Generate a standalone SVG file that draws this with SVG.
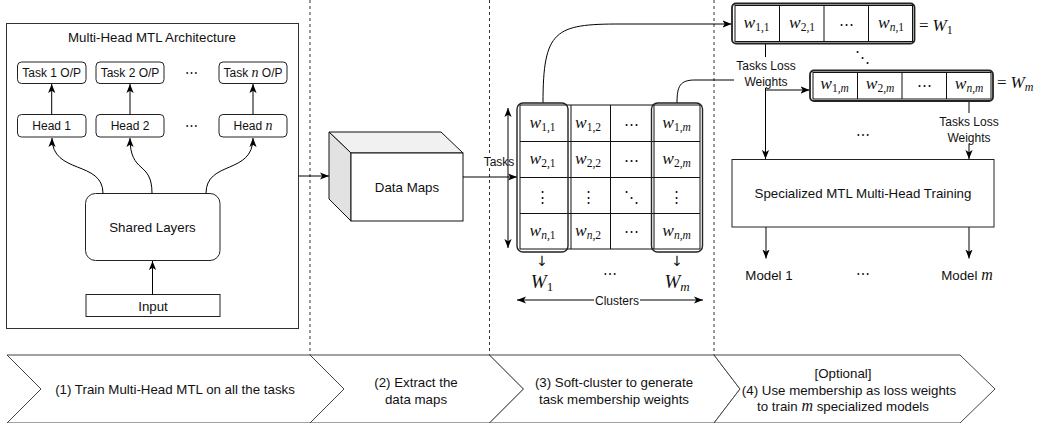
<svg xmlns="http://www.w3.org/2000/svg" width="1042" height="423" viewBox="0 0 1042 423">
<defs>
<style>
.t{font-family:"Liberation Sans",Arial,sans-serif;fill:#111;}
.f13{font-size:13.3px;}
.f12{font-size:12px;}
.m{font-family:"Liberation Serif","Times New Roman",serif;fill:#111;}
.d{font-family:"DejaVu Serif",serif;fill:#111;}
.ar{font-family:"DejaVu Sans",sans-serif;fill:#111;}
.i{font-style:italic;}
.box{fill:#fff;stroke:#222;stroke-width:1;}
.edge{fill:none;stroke:#000;stroke-width:1;}
.dash{fill:none;stroke:#333;stroke-width:1;stroke-dasharray:3 3;}
.chev{fill:#fff;stroke:#444;stroke-width:1;}
.cell{fill:#fff;stroke:#111;stroke-width:1;}
.grp{fill:none;stroke:#222;stroke-width:1.4;}
.bg{fill:#fff;stroke:none;}
</style>
<marker id="arr" viewBox="0 0 10 8" refX="10" refY="4" markerWidth="9" markerHeight="8" markerUnits="userSpaceOnUse" orient="auto-start-reverse">
<path d="M0,0 L10,4 L0,8 L2.5,4 Z" fill="#000"/>
</marker>
</defs>
<rect width="1042" height="423" fill="#fff"/>

<g id="separators">
<line class="dash" x1="310" y1="0" x2="310" y2="355"/>
<line class="dash" x1="489.5" y1="0" x2="489.5" y2="355"/>
<line class="dash" x1="714" y1="0" x2="714" y2="355"/>
</g>

<g id="mtl-architecture">
<rect x="6.5" y="23.5" width="292" height="305" fill="#fff" stroke="#333" stroke-width="1"/>
<text class="t f13" x="152" y="41.5" text-anchor="middle">Multi-Head MTL Architecture</text>
</g>
<g id="task1"><rect class="box" x="17.5" y="62" width="68.5" height="21.5" rx="4"/><text class="t f12" x="51.7" y="77" text-anchor="middle">Task 1 O/P</text></g>
<g id="task2"><rect class="box" x="96" y="62" width="68" height="21.5" rx="4"/><text class="t f12" x="130" y="77" text-anchor="middle">Task 2 O/P</text></g>
<g id="taskn"><rect class="box" x="219" y="62" width="68" height="21.5" rx="4"/><text class="t f12" x="253" y="77" text-anchor="middle">Task <tspan class="m i" font-size="14">n</tspan> O/P</text></g>
<g id="head1"><rect class="box" x="17.5" y="114.5" width="68.5" height="22.5" rx="4"/><text class="t f12" x="51.7" y="130" text-anchor="middle">Head 1</text></g>
<g id="head2"><rect class="box" x="96" y="114.5" width="68" height="22.5" rx="4"/><text class="t f12" x="130" y="130" text-anchor="middle">Head 2</text></g>
<g id="headn"><rect class="box" x="219" y="114.5" width="68" height="22.5" rx="4"/><text class="t f12" x="253" y="130" text-anchor="middle">Head <tspan class="m i" font-size="14">n</tspan></text></g>
<g id="dots-heads">
<text class="d" font-size="13" x="191.5" y="76.5" text-anchor="middle">⋯</text>
<text class="d" font-size="13" x="191.5" y="129.5" text-anchor="middle">⋯</text>
</g>
<g id="shared-layers"><rect class="box" x="85.5" y="193.5" width="134.5" height="67" rx="10"/><text class="t f13" x="152.5" y="231.5" text-anchor="middle">Shared Layers</text></g>
<g id="input"><rect class="box" x="86" y="294.5" width="134" height="22"/><text class="t f13" x="153" y="310.5" text-anchor="middle">Input</text></g>

<g id="data-maps">
<polygon points="329,132 441,132 463,153 351,153" fill="#f1f1f1" stroke="#111" stroke-width="1"/>
<polygon points="329,132 351,153 351,221 329,199" fill="#e2e2e2" stroke="#111" stroke-width="1"/>
<rect x="351" y="153" width="112" height="68" fill="#fff" stroke="#111" stroke-width="1"/>
<text class="t f13" x="407" y="191.5" text-anchor="middle">Data Maps</text>
</g>

<g id="connectors">
<line class="edge" x1="51.7" y1="114.5" x2="51.7" y2="84" marker-end="url(#arr)"/>
<line class="edge" x1="130" y1="114.5" x2="130" y2="84" marker-end="url(#arr)"/>
<line class="edge" x1="253" y1="114.5" x2="253" y2="84" marker-end="url(#arr)"/>
<path class="edge" d="M103,193.5 C103,160 52,175 52,138" marker-end="url(#arr)"/>
<path class="edge" d="M152,193.5 C152,160 130,175 130,138" marker-end="url(#arr)"/>
<path class="edge" d="M206,193.5 C206,160 253,175 253,138" marker-end="url(#arr)"/>
<line class="edge" x1="152.5" y1="294.5" x2="152.5" y2="261" marker-end="url(#arr)"/>
<line class="edge" x1="298.5" y1="176" x2="329" y2="176" marker-end="url(#arr)"/>
<line class="edge" x1="463" y1="177" x2="517" y2="177" marker-end="url(#arr)"/>
<line class="edge" x1="508" y1="108" x2="508" y2="248" marker-start="url(#arr)" marker-end="url(#arr)"/>
<line class="edge" x1="517" y1="300" x2="703" y2="300" marker-start="url(#arr)" marker-end="url(#arr)"/>
<path class="edge" d="M543,103 C543,30 555,24 620,24 L731.5,24" marker-end="url(#arr)"/>
<path class="edge" d="M677,103 C677,86 680,80 695,80 L765.5,80 L765.5,90 L809.5,90" marker-end="url(#arr)"/>
<line class="edge" x1="765.5" y1="43.5" x2="765.5" y2="159" marker-end="url(#arr)"/>
<line class="edge" x1="969" y1="101" x2="969" y2="159" marker-end="url(#arr)"/>
<line class="edge" x1="766" y1="227" x2="766" y2="258.5" marker-end="url(#arr)"/>
<line class="edge" x1="969" y1="227" x2="969" y2="258.5" marker-end="url(#arr)"/>
</g>

<g id="edge-labels">
<rect class="bg" x="482" y="154" width="24" height="14"/>
<rect class="bg" x="509" y="154" width="8" height="14"/>
<text class="t f12" x="499" y="165.5" text-anchor="middle">Tasks</text>
<rect class="bg" x="594" y="293" width="46" height="14"/>
<text class="t f12" x="617" y="304.5" text-anchor="middle">Clusters</text>
<rect class="bg" x="734" y="57" width="63" height="31"/>
<text class="t f12" x="766" y="69.5" text-anchor="middle">Tasks Loss</text>
<text class="t f12" x="766" y="85.5" text-anchor="middle">Weights</text>
<rect class="bg" x="937" y="113" width="64" height="31"/>
<text class="t f12" x="969" y="125.5" text-anchor="middle">Tasks Loss</text>
<text class="t f12" x="969" y="141.5" text-anchor="middle">Weights</text>
</g>

<g id="weight-matrix">
<rect class="cell" x="520" y="105" width="180" height="144"/>
<line class="cell" x1="571" y1="105" x2="571" y2="249"/>
<line class="cell" x1="610.5" y1="105" x2="610.5" y2="249"/>
<line class="cell" x1="654" y1="105" x2="654" y2="249"/>
<line class="cell" x1="520" y1="141.5" x2="700" y2="141.5"/>
<line class="cell" x1="520" y1="177.5" x2="700" y2="177.5"/>
<line class="cell" x1="520" y1="213.5" x2="700" y2="213.5"/>
<rect class="grp" x="517" y="103" width="51" height="149" rx="6"/>
<rect class="grp" x="651.5" y="103" width="51" height="149" rx="6"/>
<g class="m" font-size="17.5" text-anchor="middle">
<text x="542.5" y="127.5"><tspan class="i">w</tspan><tspan font-size="11.5" dy="3">1,1</tspan></text>
<text x="588" y="127.5"><tspan class="i">w</tspan><tspan font-size="11.5" dy="3">1,2</tspan></text>
<text x="676.5" y="127.5"><tspan class="i">w</tspan><tspan font-size="11.5" dy="3">1,<tspan class="i">m</tspan></tspan></text>
<text x="542.5" y="163.5"><tspan class="i">w</tspan><tspan font-size="11.5" dy="3">2,1</tspan></text>
<text x="588" y="163.5"><tspan class="i">w</tspan><tspan font-size="11.5" dy="3">2,2</tspan></text>
<text x="676.5" y="163.5"><tspan class="i">w</tspan><tspan font-size="11.5" dy="3">2,<tspan class="i">m</tspan></tspan></text>
<text x="542.5" y="235.5"><tspan class="i">w</tspan><tspan font-size="11.5" dy="3"><tspan class="i">n</tspan>,1</tspan></text>
<text x="588" y="235.5"><tspan class="i">w</tspan><tspan font-size="11.5" dy="3"><tspan class="i">n</tspan>,2</tspan></text>
<text x="676.5" y="235.5"><tspan class="i">w</tspan><tspan font-size="11.5" dy="3"><tspan class="i">n</tspan>,<tspan class="i">m</tspan></tspan></text>
</g>
<g class="d" font-size="15" text-anchor="middle">
<text x="631" y="128.5">⋯</text>
<text x="631" y="164.5">⋯</text>
<text x="631" y="236">⋯</text>
<text x="542.5" y="202">⋮</text>
<text x="588" y="202">⋮</text>
<text x="676.5" y="202">⋮</text>
<text x="631" y="202">⋱</text>
</g>
</g>

<g id="cluster-labels">
<text class="ar" font-size="14" x="542" y="266" text-anchor="middle">↓&#xFE0E;</text>
<text class="ar" font-size="14" x="677" y="266" text-anchor="middle">↓&#xFE0E;</text>
<text class="m" font-size="19" x="542" y="288" text-anchor="middle"><tspan class="i">W</tspan><tspan font-size="13" dy="3">1</tspan></text>
<text class="m" font-size="19" x="677" y="288" text-anchor="middle"><tspan class="i">W</tspan><tspan font-size="13" dy="3" class="i">m</tspan></text>
<text class="d" font-size="14" x="610" y="279" text-anchor="middle">⋯</text>
</g>

<g id="w1-row">
<rect x="732" y="3.5" width="182.5" height="40" rx="4" fill="#fff" stroke="#222" stroke-width="1.8"/>
<rect class="cell" x="735" y="5.5" width="177.5" height="36"/>
<line class="cell" x1="779.5" y1="5.5" x2="779.5" y2="41.5"/>
<line class="cell" x1="824" y1="5.5" x2="824" y2="41.5"/>
<line class="cell" x1="868.5" y1="5.5" x2="868.5" y2="41.5"/>
<g class="m" font-size="17.5" text-anchor="middle">
<text x="756.5" y="28"><tspan class="i">w</tspan><tspan font-size="11.5" dy="3">1,1</tspan></text>
<text x="802" y="28"><tspan class="i">w</tspan><tspan font-size="11.5" dy="3">2,1</tspan></text>
<text x="891" y="28"><tspan class="i">w</tspan><tspan font-size="11.5" dy="3"><tspan class="i">n</tspan>,1</tspan></text>
</g>
<text class="d" font-size="15" x="846.5" y="29" text-anchor="middle">⋯</text>
<text class="m" font-size="17" x="919" y="30.5"><tspan>=</tspan><tspan class="i" dx="4">W</tspan><tspan font-size="12" dy="3">1</tspan></text>
</g>
<text class="d" font-size="15" x="862" y="62" text-anchor="middle">⋱</text>

<g id="wm-row">
<rect x="810" y="70.5" width="183" height="30.5" rx="4" fill="#fff" stroke="#222" stroke-width="1.8"/>
<rect class="cell" x="813" y="72.5" width="178" height="26.5"/>
<line class="cell" x1="857.5" y1="72.5" x2="857.5" y2="99"/>
<line class="cell" x1="902" y1="72.5" x2="902" y2="99"/>
<line class="cell" x1="946.5" y1="72.5" x2="946.5" y2="99"/>
<g class="m" font-size="17.5" text-anchor="middle">
<text x="834.5" y="88.5"><tspan class="i">w</tspan><tspan font-size="11.5" dy="3">1,<tspan class="i">m</tspan></tspan></text>
<text x="880" y="88.5"><tspan class="i">w</tspan><tspan font-size="11.5" dy="3">2,<tspan class="i">m</tspan></tspan></text>
<text x="969" y="88.5"><tspan class="i">w</tspan><tspan font-size="11.5" dy="3"><tspan class="i">n</tspan>,<tspan class="i">m</tspan></tspan></text>
</g>
<text class="d" font-size="15" x="924" y="89.5" text-anchor="middle">⋯</text>
<text class="m" font-size="17" x="997" y="88"><tspan>=</tspan><tspan class="i" dx="4">W</tspan><tspan font-size="12" dy="3" class="i">m</tspan></text>
</g>
<text class="d" font-size="14" x="863" y="140" text-anchor="middle">⋯</text>

<g id="specialized-training">
<rect class="box" x="732" y="159.5" width="262" height="67.5"/>
<text class="t f13" x="863" y="197.5" text-anchor="middle">Specialized MTL Multi-Head Training</text>
</g>
<g id="model1"><text class="t f13" x="769" y="280" text-anchor="middle">Model 1</text></g>
<text class="d" font-size="14" x="863" y="279" text-anchor="middle">⋯</text>
<g id="modelm"><text class="t f13" x="967" y="280" text-anchor="middle">Model <tspan class="m i" font-size="16">m</tspan></text></g>

<g id="step1">
<polygon class="chev" points="7,355 310,355 344,389 310,423 7,423 41,389"/>
<text class="t f13" x="175" y="394" text-anchor="middle">(1) Train Multi-Head MTL on all the tasks</text>
</g>
<g id="step2">
<polygon class="chev" points="310,355 489.5,355 523.5,389 489.5,423 310,423 344,389"/>
<text class="t f13" x="416" y="386.5" text-anchor="middle">(2) Extract the</text>
<text class="t f13" x="416" y="403.5" text-anchor="middle">data maps</text>
</g>
<g id="step3">
<polygon class="chev" points="489.5,355 714,355 740,389 714,423 489.5,423 523.5,389"/>
<text class="t f13" x="614" y="386.5" text-anchor="middle">(3) Soft-cluster to generate</text>
<text class="t f13" x="614" y="403.5" text-anchor="middle">task membership weights</text>
</g>
<g id="step4">
<polygon class="chev" points="714,355 960,355 995,389 960,423 714,423 740,389"/>
<text class="t f13" x="843" y="377.5" text-anchor="middle">[Optional]</text>
<text class="t f13" x="849" y="394.5" text-anchor="middle">(4) Use membership as loss weights</text>
<text class="t f13" x="843" y="411" text-anchor="middle">to train <tspan class="m i" font-size="16">m</tspan> specialized models</text>
</g>
</svg>
